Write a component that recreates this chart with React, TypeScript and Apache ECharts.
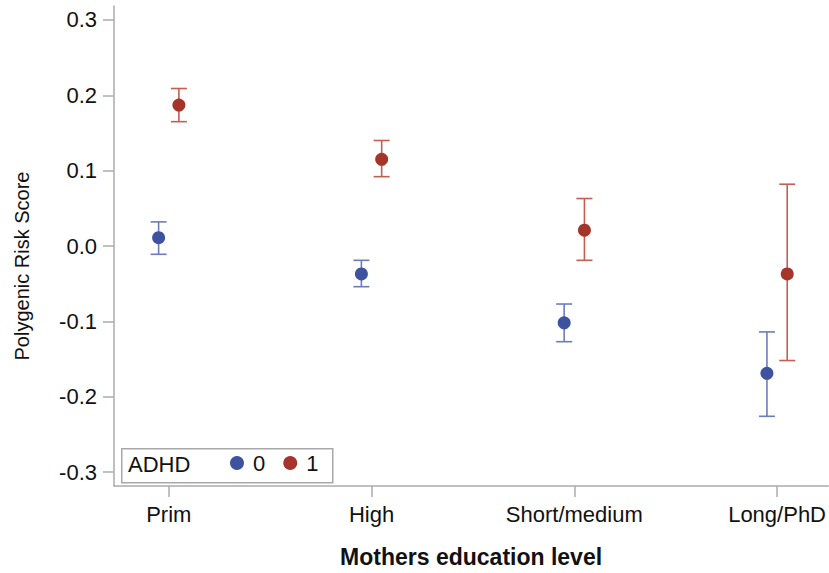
import React, { useEffect, useRef } from "react";
import * as echarts from "echarts";

const categories = ["Prim", "High", "Short/medium", "Long/PhD"];
const groupNames = ["0", "1"];
const adhd0Mean = [0.011, -0.037, -0.102, -0.169];
const adhd0Lower = [-0.011, -0.054, -0.127, -0.226];
const adhd0Upper = [0.032, -0.019, -0.077, -0.114];
const adhd1Mean = [0.187, 0.115, 0.021, -0.037];
const adhd1Lower = [0.165, 0.092, -0.019, -0.152];
const adhd1Upper = [0.209, 0.14, 0.063, 0.082];
const yTicks = [-0.3, -0.2, -0.1, 0.0, 0.1, 0.2, 0.3];

const OFFSET = 0.05;
const BLUE = "#3E52A0";
const RED = "#A5352B";
const BLUE_BAR = "#6C7CBE";
const RED_BAR = "#C45E54";
const AXIS = "#ababab";
const FONT = "'Liberation Sans', Arial, sans-serif";

export default function App() {
  const ref = useRef<HTMLDivElement>(null);
  useEffect(() => {
    if (!ref.current) return;
    const chart = echarts.init(ref.current, undefined, { renderer: "svg" });
    const xs = categories.map((_, i) => i);
    const pts0 = xs.map((x, i) => [x - OFFSET, adhd0Mean[i]]);
    const pts1 = xs.map((x, i) => [x + OFFSET, adhd1Mean[i]]);
    const bars0 = xs.map((x, i) => [x - OFFSET, adhd0Lower[i], adhd0Upper[i]]);
    const bars1 = xs.map((x, i) => [x + OFFSET, adhd1Lower[i], adhd1Upper[i]]);
    const errRender = (color: string) => (params: any, api: any) => {
      const x = api.value(0);
      const lo = api.coord([x, api.value(1)]);
      const hi = api.coord([x, api.value(2)]);
      const hw = 8;
      const style = { stroke: color, lineWidth: 1.6 };
      return {
        type: "group",
        children: [
          { type: "line", shape: { x1: hi[0], y1: hi[1], x2: lo[0], y2: lo[1] }, style },
          { type: "line", shape: { x1: hi[0] - hw, y1: hi[1], x2: hi[0] + hw, y2: hi[1] }, style },
          { type: "line", shape: { x1: lo[0] - hw, y1: lo[1], x2: lo[0] + hw, y2: lo[1] }, style },
        ],
      };
    };
    chart.setOption({
      animation: false,
      backgroundColor: "#ffffff",
      textStyle: { fontFamily: FONT },
      grid: { left: 114, right: 0, top: 6, bottom: 84, containLabel: false },
      xAxis: {
        type: "value",
        min: -0.27,
        max: 3.252,
        splitLine: { show: false },
        axisLine: { show: true, onZero: false, lineStyle: { color: AXIS, width: 1.5 } },
        axisTick: { show: true, inside: false, length: 11, customValues: xs, lineStyle: { color: AXIS, width: 1.5 } },
        axisLabel: {
          customValues: xs,
          margin: 17,
          fontSize: 22,
          color: "#111",
          fontFamily: FONT,
          formatter: (v: number) => categories[Math.round(v)] ?? "",
        },
        name: "Mothers education level",
        nameLocation: "middle",
        nameGap: 59,
        nameTextStyle: { fontSize: 23, fontWeight: "bold", color: "#111", fontFamily: FONT },
      },
      yAxis: {
        type: "value",
        min: -0.3185,
        max: 0.3185,
        splitLine: { show: false },
        axisLine: { show: true, onZero: false, lineStyle: { color: AXIS, width: 1.5 } },
        axisTick: { show: true, inside: false, length: 11, customValues: yTicks, lineStyle: { color: AXIS, width: 1.5 } },
        axisLabel: {
          customValues: yTicks,
          margin: 17,
          fontSize: 22,
          color: "#111",
          fontFamily: FONT,
          formatter: (v: number) => (Math.abs(v) < 1e-9 ? "0.0" : v.toFixed(1)),
        },
      },
      legend: {
        data: groupNames,
        left: 230,
        top: 452,
        icon: "circle",
        itemWidth: 14,
        itemHeight: 14,
        itemGap: 18,
        padding: 0,
        itemStyle: { opacity: 1 },
        textStyle: { fontSize: 22, color: "#111", fontFamily: FONT, padding: [0, 0, 0, 4] },
      },
      graphic: [
        {
          type: "rect",
          left: 121,
          top: 448,
          z: 0,
          shape: { width: 211, height: 34 },
          style: { fill: "#ffffff", stroke: "#a8a8a8", lineWidth: 1.5 },
        },
        {
          type: "text",
          left: 128,
          top: 453,
          z: 1,
          style: { text: "ADHD", fontSize: 22, fill: "#111", fontFamily: FONT },
        },
        {
          type: "text",
          x: 22,
          y: 266,
          rotation: Math.PI / 2,
          style: {
            text: "Polygenic Risk Score",
            fontSize: 20,
            fill: "#111",
            fontFamily: FONT,
            align: "center",
            verticalAlign: "middle",
          },
        },
      ],
      series: [
        {
          type: "custom",
          name: "err0",
          renderItem: errRender(BLUE_BAR),
          data: bars0,
          z: 1,
          silent: true,
        },
        {
          type: "custom",
          name: "err1",
          renderItem: errRender(RED_BAR),
          data: bars1,
          z: 1,
          silent: true,
        },
        {
          type: "scatter",
          name: "0",
          data: pts0,
          symbol: "circle",
          symbolSize: 13,
          itemStyle: { color: BLUE, opacity: 1 },
          z: 3,
        },
        {
          type: "scatter",
          name: "1",
          data: pts1,
          symbol: "circle",
          symbolSize: 13,
          itemStyle: { color: RED, opacity: 1 },
          z: 3,
        },
      ],
    });
    return () => chart.dispose();
  }, []);
  return (
    <div
      ref={ref}
      style={{ position: "fixed", left: 0, top: 0, width: 829, height: 573 }}
    />
  );
}
